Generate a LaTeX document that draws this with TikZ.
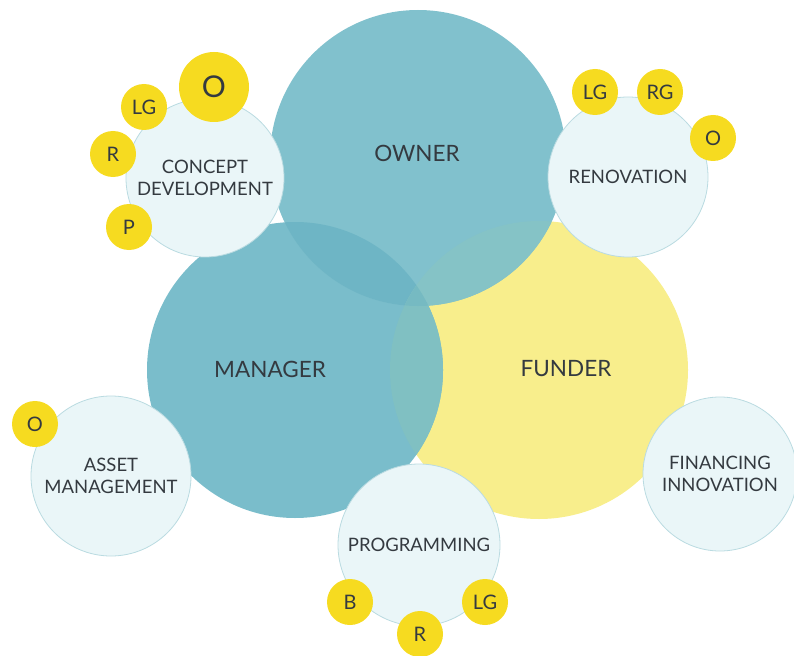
\documentclass[tikz,border=0pt]{standalone}
\usepackage{fontspec}
\setmainfont{Lato}
\usetikzlibrary{positioning}

\definecolor{ownerteal}{RGB}{129,193,205}
\definecolor{managerteal}{RGB}{122,189,203}
\definecolor{funderyellow}{RGB}{248,238,140}
\definecolor{omlens}{RGB}{110,181,197}
\definecolor{mflens}{RGB}{128,192,194}
\definecolor{oflens}{RGB}{133,195,198}
\definecolor{ofmcore}{RGB}{118,186,194}
\definecolor{topicfill}{RGB}{234,246,248}
\definecolor{topicline}{RGB}{186,219,225}
\definecolor{badgeyellow}{RGB}{246,219,32}
\definecolor{inkgray}{RGB}{52,58,64}

\tikzset{
  rolelabel/.style={font=\fontsize{22.5}{26}\selectfont, text=inkgray},
  topic/.style={circle, draw=topicline, line width=0.8pt, fill=topicfill,
    inner sep=0pt, align=center, font=\fontsize{18.5}{22}\selectfont, text=inkgray},
  badge/.style={circle, fill=badgeyellow, inner sep=0pt, minimum size=46pt,
    font=\fontsize{20}{20}\selectfont, text=inkgray},
}

\begin{document}
\begin{tikzpicture}[x=1pt, y=-1pt]
  \useasboundingbox (0,0) rectangle (794,655);

  % Centres of the three role circles
  \coordinate (ownerc) at (418,158);
  \coordinate (managerc) at (295,370);
  \coordinate (funderc) at (539,370);

  % Role circles
  \fill[funderyellow] (funderc) circle (149pt);
  \fill[managerteal] (managerc) circle (148pt);
  \fill[ownerteal] (ownerc) circle (148pt);

  % Overlaps
  \begin{scope}
    \clip (managerc) circle (148pt);
    \fill[omlens] (ownerc) circle (148pt);
  \end{scope}
  \begin{scope}
    \clip (funderc) circle (149pt);
    \fill[mflens] (managerc) circle (148pt);
  \end{scope}
  \begin{scope}
    \clip (funderc) circle (149pt);
    \fill[oflens] (ownerc) circle (148pt);
  \end{scope}
  \begin{scope}
    \clip (funderc) circle (149pt);
    \clip (managerc) circle (148pt);
    \fill[ofmcore] (ownerc) circle (148pt);
  \end{scope}

  % Role labels
  \node[rolelabel] (ownerlbl) at (417,153) {OWNER};
  \node[rolelabel] (managerlbl) at (270,369) {MANAGER};
  \node[rolelabel] (funderlbl) at (566,369) {FUNDER};

  % Topic circles
  \node[topic, minimum size=158pt] (concept) at (205,178) {CONCEPT\\DEVELOPMENT};
  \node[topic, minimum size=160pt] (renovation) at (628,177) {RENOVATION};
  \node[topic, minimum size=160pt] (asset) at (111,476) {ASSET\\MANAGEMENT};
  \node[topic, minimum size=154pt] (financing) at (720,474) {FINANCING\\INNOVATION};
  \node[topic, minimum size=162pt] (programming) at (419,545) {PROGRAMMING};

  % Badges
  \node[badge, minimum size=70pt, font=\fontsize{30}{30}\selectfont] (cdO) at (214,87) {O};
  \foreach \bname/\bx/\by/\btxt in {
    cdLG/144/107/LG, cdR/113/154/R, cdP/129/227/P,
    rnLG/595/92/LG, rnRG/660/92/RG, rnO/713/138/O,
    amO/35/424/O,
    pgB/350/602/B, pgR/420/634/R, pgLG/485/602/LG
  }{
    \node[badge] (\bname) at (\bx,\by) {\btxt};
  }
\end{tikzpicture}
\end{document}
